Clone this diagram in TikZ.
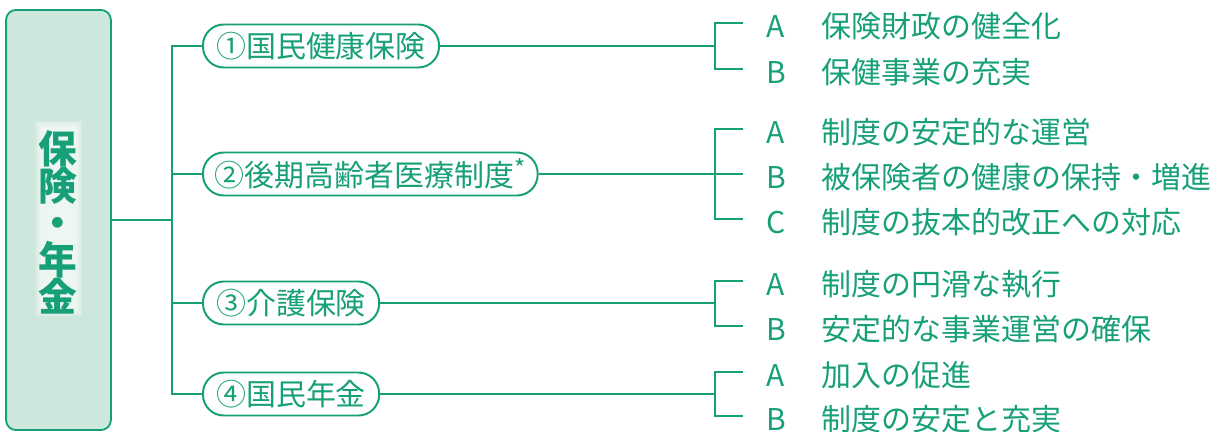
\documentclass[tikz,border=0pt]{standalone}
\usepackage{fontspec}
\newfontfamily\cjk{Noto Sans CJK JP}
\usetikzlibrary{positioning}
\definecolor{hgreen}{HTML}{17A078}
\definecolor{hfill}{HTML}{CDE7DC}
\tikzset{
    x=0.025cm, y=-0.025cm,
    link/.style={draw=hgreen, line width=1.3pt},
    pill/.style={draw=hgreen, line width=1.4pt, rounded corners=0.52cm, minimum height=1.075cm,
        inner xsep=0.33cm, inner ysep=0pt, anchor=west, text=hgreen,
        font=\cjk\fontsize{21.3}{24}\selectfont},
    item/.style={anchor=west, inner xsep=0pt, text=hgreen, font=\cjk\fontsize{21.3}{24}\selectfont},
}
\newcommand{\hlabel}[1]{\makebox[1.39cm][l]{#1}}

\begin{document}
\begin{tikzpicture}
    \useasboundingbox (0,0) rectangle (1221,432);
    % left box
    \node[draw=hgreen, fill=hfill, line width=1.3pt, rounded corners=0.25cm,
        minimum width=2.62cm, minimum height=10.5cm, inner sep=0pt] (hoken) at (58.5,220) {};
    \foreach \i in {0,...,4}
        \fill[white, opacity=0.2] (35+\i*1.5,121+\i*1.5) rectangle (82-\i*1.5,316-\i*1.5);
    \node[text=hgreen, font=\cjk\bfseries\fontsize{27.5}{26.3}\selectfont, align=center, inner sep=0pt]
        (title) at (58,222) {保\\険\\・\\年\\金};

    % pills
    \node[pill] (k1) at (202,46) {①国民健康保険};
    \node[pill, inner xsep=0.3cm] (k2) at (202,174) {②後期高齢者医療制度\raisebox{0.3em}{\fontsize{17}{17}\selectfont *}};
    \node[pill] (k3) at (202,303) {③介護保険};
    \node[pill] (k4) at (202,394) {④国民年金};

    % trunk
    \coordinate (fork) at (172,220);
    \draw[link] (hoken.east) -- (fork);
    \draw[link] (k1.west) -| (fork) |- (k4.west);
    \draw[link] (k2.west) -- (k2.west -| fork);
    \draw[link] (k3.west) -- (k3.west -| fork);

    % brackets
    \coordinate (j1) at (715,46);
    \coordinate (j2) at (715,174);
    \coordinate (j3) at (715,303);
    \coordinate (j4) at (715,394);
    \coordinate (t1a) at (743,23);
    \coordinate (t1b) at (743,69);
    \coordinate (t2a) at (743,129);
    \coordinate (t2b) at (743,174);
    \coordinate (t2c) at (743,219);
    \coordinate (t3a) at (743,281);
    \coordinate (t3b) at (743,326);
    \coordinate (t4a) at (743,372);
    \coordinate (t4b) at (743,416);
    \draw[link] (k1.east) -- (j1);
    \draw[link] (k2.east) -- (j2);
    \draw[link] (k3.east) -- (j3);
    \draw[link] (k4.east) -- (j4);
    \draw[link] (t1a) -| (j1) |- (t1b);
    \draw[link] (t2a) -| (j2) |- (t2c);
    \draw[link] (j2) -- (t2b);
    \draw[link] (t3a) -| (j3) |- (t3b);
    \draw[link] (t4a) -| (j4) |- (t4b);

    % items
    \node[item] (i1a) at (766,26) {\hlabel{A}保険財政の健全化};
    \node[item] (i1b) at (766,72) {\hlabel{B}保健事業の充実};
    \node[item] (i2a) at (766,132) {\hlabel{A}制度の安定的な運営};
    \node[item] (i2b) at (766,177) {\hlabel{B}被保険者の健康の保持・増進};
    \node[item] (i2c) at (766,222) {\hlabel{C}制度の抜本的改正への対応};
    \node[item] (i3a) at (766,284) {\hlabel{A}制度の円滑な執行};
    \node[item] (i3b) at (766,329) {\hlabel{B}安定的な事業運営の確保};
    \node[item] (i4a) at (766,375) {\hlabel{A}加入の促進};
    \node[item] (i4b) at (766,419) {\hlabel{B}制度の安定と充実};
\end{tikzpicture}
\end{document}
